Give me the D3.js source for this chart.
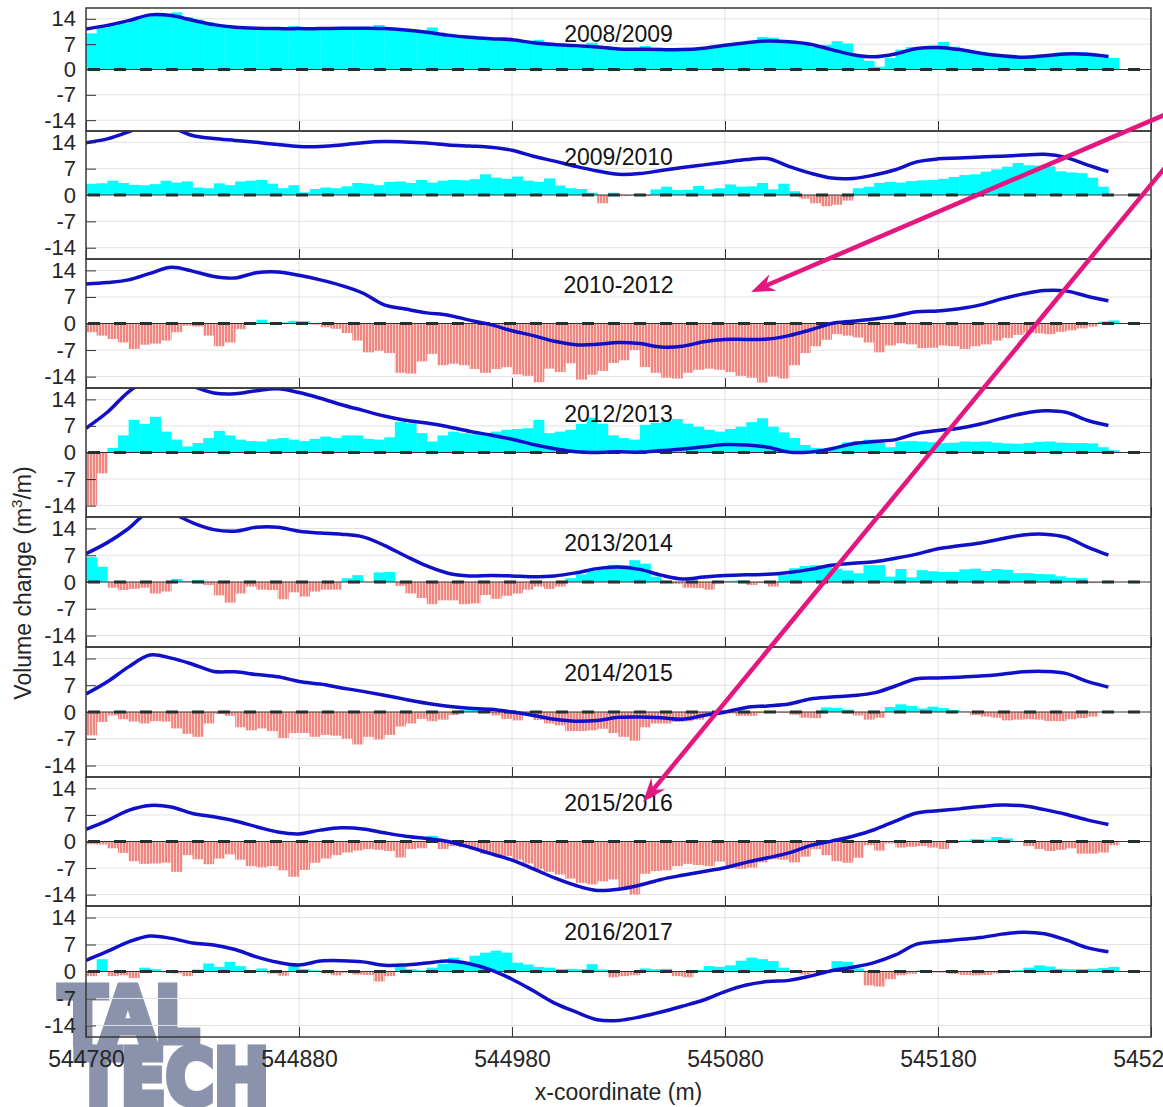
<!DOCTYPE html>
<html>
<head>
<meta charset="utf-8">
<script src="https://cdn.jsdelivr.net/npm/d3@7"></script>
<style>
body { margin: 0; background: #fff; }
svg { display: block; font-family: "Liberation Sans", Arial, sans-serif; }
</style>
</head>
<body>
<svg></svg>
<script>

// seasons shown, one panel each
var seasons = ["2008/2009", "2009/2010", "2010-2012", "2012/2013", "2013/2014", "2014/2015", "2015/2016", "2016/2017"];

// x of the bars (every 5 m) and of the blue line (every 10 m)
var barX = d3.range(544780, 545261, 5);
var lineX = d3.range(544780, 545261, 10);

var xTicks = [544780, 544880, 544980, 545080, 545180, 545280];
var yTicks = [-14, -7, 0, 7, 14];

// volume change per metre (rows of 10 bars = 50 m)
var bar2008_2009 = [
  10.0, 11.6, 12.2, 12.8, 13.8, 14.6, 15.2, 15.4, 15.8, 14.5,
  13.8, 13.1, 12.5, 12.1, 11.8, 11.5, 11.4, 11.3, 11.4, 12.0,
  11.4, 11.3, 11.3, 11.4, 11.4, 11.5, 11.8, 12.3, 11.4, 11.2,
  10.9, 10.8, 11.6, 9.8, 9.4, 9.1, 8.9, 8.6, 8.5, 9.0,
  8.1, 7.4, 8.2, 7.2, 6.9, 6.8, 6.7, 7.4, 6.0, 5.8,
  5.6, 6.0, 6.5, 5.5, 5.4, 5.4, 5.5, 5.7, 6.0, 6.3,
  6.8, 7.3, 7.6, 9.0, 8.8, 8.0, 7.8, 7.4, 6.2, 6.8,
  7.8, 7.2, 3.5, 2.4, 0.8, 3.2, 5.5, 6.2, 6.0, 6.6,
  7.6, 6.3, 5.6, 4.9, 4.5, 4.1, 3.7, 3.5, 3.5, 3.6,
  4.2, 4.7, 4.5, 4.8, 4.3, 3.9, 3.2];
var bar2009_2010 = [
  3.0, 3.1, 3.8, 3.2, 2.7, 2.6, 2.9, 3.8, 3.3, 3.6,
  2.0, 1.8, 3.1, 2.6, 3.6, 3.8, 4.0, 3.0, 1.8, 2.6,
  0.7, 1.6, 2.0, 1.8, 2.3, 3.2, 3.0, 2.6, 3.5, 3.6,
  3.2, 4.0, 3.3, 3.8, 4.0, 3.9, 4.2, 5.5, 4.6, 4.3,
  4.9, 3.8, 3.5, 4.4, 2.5, 1.8, 1.6, 0.6, -2.2, 0.6,
  -0.3, -0.2, -0.3, 1.5, 2.2, 1.3, 1.4, 2.4, 1.5, 1.8,
  2.8, 2.2, 2.3, 3.2, 1.5, 3.0, 1.0, -1.0, -2.2, -3.0,
  -2.6, -1.5, 1.8, 2.2, 3.2, 3.5, 3.3, 3.7, 3.9, 4.0,
  4.3, 4.8, 5.3, 5.5, 6.2, 6.8, 7.5, 8.5, 7.9, 7.8,
  7.6, 6.3, 6.0, 5.8, 4.6, 2.2, 0.0];
var bar2010_2012 = [
  -2.3, -3.2, -4.1, -5.0, -6.7, -5.6, -5.3, -4.5, -2.3, -0.6,
  -0.8, -3.2, -6.0, -5.0, -1.5, -0.3, 1.0, 0.2, 0.3, 0.7,
  0.6, -0.3, -1.0, -1.4, -2.5, -4.5, -7.6, -7.2, -7.8, -13.0,
  -13.2, -10.0, -8.0, -11.0, -10.6, -11.0, -12.0, -13.0, -12.0, -11.5,
  -13.4, -13.8, -15.5, -11.9, -12.8, -10.5, -14.8, -13.5, -12.5, -10.4,
  -9.7, -7.0, -11.5, -13.0, -14.3, -14.5, -13.0, -12.2, -11.9, -12.2,
  -12.8, -13.8, -14.3, -15.6, -14.0, -14.5, -11.0, -7.8, -6.0, -4.3,
  -2.8, -3.2, -3.7, -5.0, -7.6, -5.8, -5.2, -5.5, -6.5, -6.4,
  -5.8, -6.0, -6.7, -6.0, -5.5, -4.5, -3.8, -3.0, -2.4, -2.6,
  -2.8, -2.2, -1.8, -1.3, -0.8, 0.5, 0.8];
var bar2012_2013 = [
  -14.0, -5.5, 1.2, 4.5, 8.6, 7.5, 9.4, 5.5, 3.4, 1.6,
  2.5, 3.8, 5.7, 4.5, 3.4, 3.0, 2.9, 3.5, 3.8, 3.4,
  3.0, 3.6, 4.2, 3.8, 4.5, 4.5, 3.6, 3.4, 4.0, 8.1,
  7.7, 5.1, 2.9, 4.5, 5.5, 5.1, 4.8, 4.7, 5.5, 6.0,
  6.2, 6.4, 8.6, 5.1, 5.5, 6.0, 7.5, 9.2, 7.6, 4.5,
  3.8, 3.4, 7.3, 7.8, 8.3, 8.8, 7.6, 6.8, 6.0, 5.5,
  6.2, 6.8, 8.0, 9.0, 6.8, 5.3, 3.8, 2.0, 1.2, 0.8,
  1.5, 2.7, 3.0, 3.4, 2.5, 1.4, 2.9, 3.0, 2.9, 2.7,
  2.5, 2.6, 2.9, 2.8, 2.9, 2.6, 2.4, 2.3, 2.5, 2.8,
  2.9, 2.6, 2.5, 2.5, 2.4, 1.4, 0.6];
var bar2013_2014 = [
  6.5, 4.0, -1.5, -2.1, -1.8, -1.5, -3.0, -2.5, 0.8, 0.3,
  0.5, -0.8, -3.5, -5.4, -3.0, -1.2, -2.0, -2.1, -4.5, -2.7,
  -3.8, -2.5, -2.0, -2.0, 1.0, 1.8, 0.0, 2.5, 2.6, -1.0,
  -3.0, -4.2, -5.8, -4.8, -4.8, -5.8, -5.6, -3.4, -4.4, -3.6,
  -3.0, -2.0, -1.2, -1.8, -1.2, 1.0, 2.0, 3.0, 3.5, 4.5,
  4.4, 5.7, 4.8, 1.4, 0.2, -0.5, -1.5, -1.6, -2.0, -0.2,
  0.3, 0.4, -0.8, -0.3, -1.2, 1.8, 3.6, 4.2, 4.4, 4.0,
  3.5, 3.0, 2.3, 4.4, 4.4, 1.4, 3.4, 1.2, 3.1, 2.8,
  2.6, 2.6, 3.3, 3.5, 2.9, 3.4, 3.2, 2.3, 2.3, 2.1,
  2.0, 1.5, 1.1, 1.0, -0.3, -0.2, 0.0];
var bar2014_2015 = [
  -6.1, -2.6, -0.9, -1.9, -2.5, -3.0, -2.4, -2.5, -4.3, -5.7,
  -6.5, -3.0, -0.5, -1.0, -4.0, -4.8, -4.3, -5.0, -6.8, -5.5,
  -5.5, -6.5, -6.0, -6.2, -7.0, -8.5, -6.5, -7.2, -6.0, -3.8,
  -3.0, -1.8, -2.4, -2.0, -0.8, 0.5, 0.5, 0.3, -0.9, -1.8,
  -2.2, -0.6, -2.1, -3.0, -3.5, -5.0, -5.0, -4.8, -4.4, -5.5,
  -6.5, -7.5, -4.0, -3.0, -3.0, -2.6, -2.4, -2.0, -1.0, -0.6,
  -0.4, -1.0, -1.0, -0.3, -0.1, -0.2, -0.7, -1.5, -1.6, 1.2,
  1.1, 0.6, -0.9, -2.0, -1.5, 1.3, 2.0, 1.6, 0.9, 1.4,
  1.0, 0.5, 0.1, -0.8, -1.2, -1.5, -2.2, -2.0, -1.9, -2.0,
  -2.4, -2.4, -1.9, -1.6, -1.2, 0.0, 0.0];
var bar2015_2016 = [
  -0.7, -0.8, -1.8, -3.0, -5.2, -5.9, -5.8, -5.6, -8.0, -3.6,
  -4.7, -6.0, -4.5, -3.4, -4.8, -6.5, -6.8, -6.5, -7.6, -9.3,
  -7.5, -5.6, -4.5, -3.6, -2.9, -2.4, -2.0, -2.2, -2.5, -4.2,
  -2.0, -1.8, 1.5, -2.0, -1.2, -1.5, -2.2, -3.2, -3.6, -3.8,
  -4.8, -5.8, -7.3, -8.0, -8.7, -9.8, -10.9, -11.3, -10.5, -10.0,
  -12.3, -14.0, -8.5, -7.8, -7.6, -6.5, -5.9, -6.2, -6.5, -5.3,
  -7.0, -7.2, -6.9, -5.5, -4.7, -4.8, -5.5, -4.0, -2.0, -3.6,
  -5.2, -5.6, -4.3, -1.0, -2.4, -0.5, -1.6, -1.4, -1.2, -1.6,
  -2.0, -0.4, 0.3, 0.6, 0.5, 1.2, 0.8, 0.1, -1.2, -2.0,
  -2.5, -2.2, -1.8, -3.2, -3.2, -2.9, -1.0];
var bar2016_2017 = [
  -1.2, 3.2, -1.2, -1.0, -1.7, 1.0, 0.6, -0.2, -0.5, -1.2,
  0.5, 2.1, 1.2, 2.5, 1.4, 0.3, 0.8, -0.5, -1.1, 1.4,
  0.6, 0.3, -0.5, -1.0, -0.4, -0.8, -0.9, -2.6, -1.2, 1.2,
  0.6, 0.3, 1.0, 2.0, 3.6, 2.3, 4.1, 4.9, 5.4, 4.9,
  2.3, 1.8, 1.2, 1.0, 0.6, 0.7, 0.6, 1.9, 0.5, -1.5,
  -1.2, -1.0, 0.8, 0.6, 0.7, -1.2, -1.5, 0.4, 1.4, 1.2,
  1.6, 2.8, 3.6, 3.2, 2.7, 1.0, -0.2, -0.8, -0.3, -0.2,
  2.7, 2.5, 0.8, -3.6, -3.9, -2.0, -1.0, -0.6, 0.3, -0.3,
  -0.3, -0.6, -0.9, -1.0, -0.9, -0.5, -0.2, 0.4, 1.0, 1.6,
  1.3, 0.7, 0.6, 0.6, 0.7, 0.9, 1.2];

// blue line, one value every 10 m (goes off the top in some panels)
var line2008_2009 = [11.2, 12.2, 13.5, 15.1, 14.9, 13.6, 12.4, 11.7, 11.4, 11.3,
  11.3, 11.3, 11.4, 11.4, 11.3, 10.9, 10.3, 9.5, 8.9, 8.5,
  8.2, 7.4, 6.9, 6.6, 6.2, 5.7, 5.6, 5.5, 5.5, 5.9,
  6.7, 7.4, 7.9, 7.7, 7.0, 5.5, 4.1, 3.5, 4.3, 5.8,
  6.1, 5.5, 4.5, 3.8, 3.4, 3.8, 4.3, 4.2, 3.6];
var line2009_2010 = [13.9, 14.9, 16.8, 19.0, 18.0, 15.8, 15.0, 14.5, 14.0, 13.4,
  12.9, 12.9, 13.3, 13.9, 14.2, 14.1, 13.8, 13.3, 13.0, 12.7,
  11.9, 10.3, 9.0, 7.6, 6.4, 5.5, 5.7, 6.5, 7.3, 8.0,
  8.7, 9.4, 9.7, 7.6, 5.8, 4.5, 4.4, 5.3, 6.7, 8.8,
  9.6, 9.8, 10.1, 10.3, 10.6, 10.8, 10.0, 8.0, 6.2];
var line2010_2012 = [10.4, 10.8, 11.5, 13.2, 14.8, 13.8, 12.4, 12.0, 13.4, 13.6,
  12.7, 11.5, 10.0, 8.0, 4.9, 3.8, 2.8, 2.2, 0.9, -0.3,
  -1.9, -3.2, -4.7, -5.6, -5.5, -5.0, -5.3, -6.2, -6.0, -4.8,
  -4.2, -4.2, -4.1, -3.2, -1.7, 0.0, 0.6, 1.2, 2.0, 3.1,
  3.3, 3.9, 4.9, 6.5, 7.8, 8.7, 8.6, 7.2, 6.0];
var line2012_2013 = [6.4, 10.6, 16.0, 19.5, 20.0, 17.5, 15.7, 15.5, 16.3, 16.8,
  15.8, 14.3, 12.6, 11.1, 9.6, 8.5, 7.8, 6.8, 5.6, 4.6,
  3.5, 2.1, 1.0, 0.2, 0.0, 0.2, 0.1, 0.5, 0.9, 1.5,
  2.1, 2.0, 1.4, 0.1, 0.1, 1.0, 2.3, 2.9, 3.4, 5.0,
  5.8, 6.4, 7.5, 9.0, 10.3, 11.0, 10.6, 8.5, 7.1];
var line2013_2014 = [7.4, 10.3, 14.0, 18.5, 18.0, 15.5, 13.7, 13.3, 14.3, 14.3,
  13.3, 12.8, 12.5, 11.8, 9.6, 6.8, 4.2, 2.3, 1.6, 1.7,
  1.6, 1.4, 1.6, 2.4, 3.5, 3.9, 3.3, 1.8, 0.8, 1.3,
  1.7, 1.9, 2.0, 2.5, 3.3, 4.4, 4.9, 5.3, 6.2, 7.3,
  8.7, 9.5, 10.2, 11.3, 12.3, 12.5, 11.7, 9.2, 7.0];
var line2014_2015 = [4.7, 7.9, 11.8, 14.9, 14.1, 12.5, 10.6, 10.5, 9.8, 9.2,
  8.0, 7.3, 6.3, 5.4, 4.4, 3.3, 2.3, 1.5, 1.0, 0.7,
  0.0, -0.9, -1.9, -2.4, -2.2, -1.4, -1.3, -1.5, -1.9, -0.9,
  0.0, 1.2, 1.6, 2.1, 3.4, 3.9, 4.3, 5.0, 6.8, 8.7,
  8.9, 9.1, 9.4, 9.9, 10.5, 10.6, 10.1, 8.0, 6.5];
var line2015_2016 = [3.2, 5.5, 8.2, 9.5, 9.1, 7.4, 6.5, 5.4, 3.9, 2.5,
  2.0, 3.0, 3.6, 3.3, 2.3, 1.4, 0.8, 0.0, -1.5, -3.2,
  -4.9, -7.2, -9.6, -11.6, -12.9, -12.6, -11.5, -10.0, -8.9, -7.9,
  -6.9, -5.5, -4.3, -3.0, -1.1, 0.1, 1.4, 3.1, 5.4, 7.5,
  8.1, 8.6, 9.2, 9.6, 9.4, 8.4, 7.2, 5.7, 4.5];
var line2016_2017 = [2.9, 5.2, 7.7, 9.2, 8.6, 7.4, 6.9, 5.7, 3.8, 2.4,
  1.7, 2.7, 2.8, 2.5, 1.6, 1.7, 2.2, 2.7, 2.0, 0.4,
  -2.0, -5.0, -8.2, -10.5, -12.5, -12.7, -11.8, -10.5, -9.0, -7.4,
  -5.2, -3.5, -2.6, -2.3, -1.2, 0.2, 1.1, 2.3, 4.3, 7.1,
  7.8, 8.3, 8.8, 9.7, 10.2, 9.8, 8.2, 6.2, 5.1];

var barSeries = [bar2008_2009, bar2009_2010, bar2010_2012, bar2012_2013, bar2013_2014, bar2014_2015, bar2015_2016, bar2016_2017];
var lineSeries = [line2008_2009, line2009_2010, line2010_2012, line2012_2013, line2013_2014, line2014_2015, line2015_2016, line2016_2017];

var svgWidth = 1163, svgHeight = 1107;
var plotLeft = 86, plotRight = 1151;
var panelTops = [8, 131, 259, 388, 517, 647, 777, 906];
var panelBottom = 1037;

var svg = d3.select("svg")
    .attr("width", svgWidth)
    .attr("height", svgHeight);

var xScale = d3.scaleLinear()
    .domain([544780, 545280])
    .range([plotLeft, plotRight]);

var defs = svg.append("defs");

// thin red stripes like the dense erosion bars
var stripes = defs.append("pattern")
    .attr("id", "erosion")
    .attr("patternUnits", "userSpaceOnUse")
    .attr("width", 3)
    .attr("height", 10);
stripes.append("rect").attr("width", 3).attr("height", 10).attr("fill", "#f9cdc9");
stripes.append("rect").attr("width", 2).attr("height", 10).attr("fill", "#ef8680");

// logo sits behind everything, heavy letters
var logo = svg.append("g")
    .attr("fill", "#8a92ac")
    .attr("stroke", "#8a92ac")
    .attr("stroke-width", 7)
    .attr("stroke-linejoin", "miter")
    .style("font-family", "'DejaVu Sans', sans-serif")
    .style("font-weight", "bold")
    .style("font-size", "76px");
logo.append("text").attr("x", 59).attr("y", 1042)
    .attr("textLength", 140).attr("lengthAdjust", "spacingAndGlyphs").text("TAL");
logo.append("text").attr("x", 76).attr("y", 1104)
    .attr("textLength", 193).attr("lengthAdjust", "spacingAndGlyphs").text("TECH");

var line = d3.line()
    .x(function(d, i) { return xScale(lineX[i]); })
    .y(function(d) { return 0; });

panelTops.forEach(function(top, p) {
    var bottom = p < panelTops.length - 1 ? panelTops[p + 1] : panelBottom;

    var yScale = d3.scaleLinear()
        .domain([-17, 17])
        .range([bottom, top]);

    defs.append("clipPath").attr("id", "clip" + p)
        .append("rect")
        .attr("x", plotLeft).attr("y", top)
        .attr("width", plotRight - plotLeft).attr("height", bottom - top);

    var g = svg.append("g");

    // grid
    g.append("g").selectAll("line")
        .data(xTicks.slice(1, -1))
        .enter().append("line")
        .attr("x1", function(d) { return xScale(d); })
        .attr("x2", function(d) { return xScale(d); })
        .attr("y1", top).attr("y2", bottom)
        .attr("stroke", "#e2e2e2").attr("stroke-width", 1);
    g.append("g").selectAll("line")
        .data([-14, -7, 7, 14])
        .enter().append("line")
        .attr("x1", plotLeft).attr("x2", plotRight)
        .attr("y1", function(d) { return yScale(d); })
        .attr("y2", function(d) { return yScale(d); })
        .attr("stroke", "#e2e2e2").attr("stroke-width", 1);

    var plot = g.append("g").attr("clip-path", "url(#clip" + p + ")");

    var barWidth = xScale(barX[1]) - xScale(barX[0]);
    plot.append("g").selectAll("rect")
        .data(barSeries[p])
        .enter().append("rect")
        .attr("x", function(d, i) { return xScale(barX[i]); })
        .attr("width", barWidth + 0.4)
        .attr("y", function(d) { return yScale(Math.max(d, 0)); })
        .attr("height", function(d) { return Math.abs(yScale(d) - yScale(0)); })
        .attr("fill", function(d) { return d >= 0 ? "#00ffff" : "url(#erosion)"; });

    // bar baseline and the dashed zero line
    plot.append("line")
        .attr("x1", plotLeft).attr("x2", plotRight)
        .attr("y1", yScale(0)).attr("y2", yScale(0))
        .attr("stroke", "#333").attr("stroke-width", 1);
    plot.append("line")
        .attr("x1", plotLeft + 2).attr("x2", plotRight)
        .attr("y1", yScale(0)).attr("y2", yScale(0))
        .attr("stroke", "#223030").attr("stroke-width", 3)
        .attr("stroke-dasharray", "12,14");

    plot.append("path")
        .datum(lineSeries[p])
        .attr("d", line.y(function(d) { return yScale(d); }).curve(d3.curveCatmullRom))
        .attr("fill", "none")
        .attr("stroke", "#1010c8")
        .attr("stroke-width", 3.5);

    // axes with inward ticks, plain hyphen for negatives
    var yAxis = d3.axisLeft(yScale)
        .tickValues(yTicks)
        .tickSize(-10)
        .tickPadding(10)
        .tickFormat(function(d) { return String(d); });
    var ya = g.append("g")
        .attr("transform", "translate(" + plotLeft + ",0)")
        .call(yAxis);
    ya.select(".domain").remove();
    ya.selectAll("line").attr("stroke", "#333");
    ya.selectAll("text").attr("fill", "#262626").style("font-size", "22px");

    var xAxis = d3.axisBottom(xScale)
        .tickValues(xTicks)
        .tickSize(-10)
        .tickPadding(14)
        .tickFormat(p === panelTops.length - 1 ? function(d) { return String(d); } : function() { return ""; });
    var xa = g.append("g")
        .attr("transform", "translate(0," + bottom + ")")
        .call(xAxis);
    xa.select(".domain").remove();
    xa.selectAll("line").attr("stroke", "#333");
    xa.selectAll("text").attr("fill", "#262626").style("font-size", "23px");

    g.append("rect")
        .attr("x", plotLeft).attr("y", top)
        .attr("width", plotRight - plotLeft).attr("height", bottom - top)
        .attr("fill", "none")
        .attr("stroke", "#383838").attr("stroke-width", 1.5);

    g.append("text")
        .attr("x", (plotLeft + plotRight) / 2)
        .attr("y", top + 34)
        .attr("text-anchor", "middle")
        .attr("fill", "#141414")
        .style("font-size", "23px")
        .text(seasons[p]);
});

// axis titles
svg.append("text")
    .attr("x", (plotLeft + plotRight) / 2)
    .attr("y", 1100)
    .attr("text-anchor", "middle")
    .attr("fill", "#262626")
    .style("font-size", "23px")
    .text("x-coordinate (m)");

var ylab = svg.append("text")
    .attr("transform", "translate(31,583) rotate(-90)")
    .attr("text-anchor", "middle")
    .attr("fill", "#262626")
    .style("font-size", "23px");
ylab.append("tspan").text("Volume change (m");
ylab.append("tspan").attr("dy", -9).style("font-size", "15px").text("3");
ylab.append("tspan").attr("dy", 9).text("/m)");

// pink arrows drawn over the chart
var arrows = [
    { x1: 1178, y1: 109, x2: 751, y2: 292 },
    { x1: 1172, y1: 159, x2: 643, y2: 802 }
];
var arrowColor = "#e3177f";
arrows.forEach(function(a) {
    var ang = Math.atan2(a.y2 - a.y1, a.x2 - a.x1);
    var len = 24, half = 9, back = 16;
    var bx = a.x2 - Math.cos(ang) * back, by = a.y2 - Math.sin(ang) * back;
    svg.append("line")
        .attr("x1", a.x1).attr("y1", a.y1).attr("x2", bx).attr("y2", by)
        .attr("stroke", arrowColor).attr("stroke-width", 4.5);
    var pts = [
        [a.x2, a.y2],
        [a.x2 - Math.cos(ang) * len + Math.sin(ang) * half, a.y2 - Math.sin(ang) * len - Math.cos(ang) * half],
        [bx, by],
        [a.x2 - Math.cos(ang) * len - Math.sin(ang) * half, a.y2 - Math.sin(ang) * len + Math.cos(ang) * half]
    ];
    svg.append("polygon")
        .attr("points", pts.map(function(q) { return q.join(","); }).join(" "))
        .attr("fill", arrowColor);
});

</script>
</body>
</html>
